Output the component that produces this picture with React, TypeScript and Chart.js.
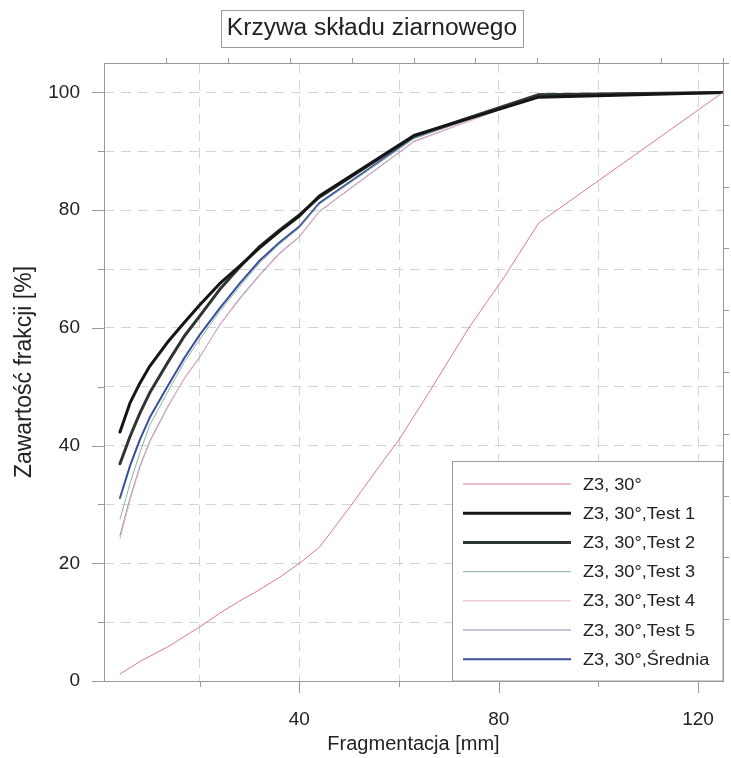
import { useEffect, useRef } from 'react';
import { Chart, registerables } from 'chart.js';
Chart.register(...registerables);

const TITLE = 'Krzywa składu ziarnowego';
const X_TITLE = 'Fragmentacja [mm]';
const Y_TITLE = 'Zawartość frakcji [%]';

const seriesLabels = [
  'Z3, 30°',
  'Z3, 30°,Test 1',
  'Z3, 30°,Test 2',
  'Z3, 30°,Test 3',
  'Z3, 30°,Test 4',
  'Z3, 30°,Test 5',
  'Z3, 30°,Średnia',
];

// base curve
const xBase = [4, 8, 13.6, 20, 24, 28, 31, 36, 40, 44, 50, 57, 60, 66, 74, 81, 88, 125];
const yBase = [1.2, 3.3, 5.8, 9.2, 11.5, 13.6, 15, 17.6, 20, 22.7, 29.4, 37.6, 41, 49, 60, 68.5, 77.8, 100];

// test curves share x values
const xTests = [4, 6, 8, 10, 13.5, 17, 20, 24, 28, 32, 36, 40, 44, 63, 88, 125];
const yTest1 = [42.3, 47.2, 50.6, 53.5, 57.5, 61, 63.9, 67.5, 70.5, 73.6, 76.4, 79, 82.4, 92.7, 99.2, 100];
const yTest2 = [36.9, 41.5, 45.5, 49, 54, 58.7, 62, 66.5, 70.3, 73.8, 76.6, 79.2, 82.2, 92.6, 99.6, 100];
const yTest3 = [27.5, 33.5, 38.8, 43.5, 49, 54.3, 58, 62.8, 67, 71, 74.2, 77, 81, 92.2, 99.6, 100];
const yTest4 = [24.1, 30.6, 36.2, 40.6, 46.3, 51.6, 55.1, 60.4, 64.8, 68.8, 72.5, 75.4, 79.7, 91.6, 99.6, 100];
const yTest5 = [24.7, 31, 36.5, 40.8, 46.5, 51.5, 55, 60.5, 65, 69, 72.7, 75.5, 79.8, 91.7, 99.5, 100];
const yMean = [31.1, 36.5, 41, 44.8, 50, 55, 58.8, 63.3, 67.5, 71.4, 74.5, 77.2, 81.2, 92.3, 99.6, 100];

const xGridValues = [20, 40, 60, 80, 100, 120];
const xLabelValues = [40, 80, 120];
const yGridValues = [10, 20, 30, 40, 50, 60, 70, 80, 90, 100];
const yLabelValues = [0, 20, 40, 60, 80, 100];
const X_MIN = 0.8;
const X_MAX = 125;
const Y_MIN = 0;
const Y_MAX = 105;

const colors = ['#db7b95', '#151515', '#2c362f', '#8fb3a0', '#e4b8c6', '#9684ad', '#3a4e9c'];
const widths = [1, 3, 3, 1, 1, 1, 2];

const FONT = '"Liberation Sans", Arial, sans-serif';
const TEXT = '#222';
const FRAME = '#9a9a9a';

const toPts = (xs: number[], ys: number[]) => xs.map((x, i) => ({ x, y: ys[i] }));

function stretchedText(ctx: any, text: string, x: number, y: number, align: 'left' | 'center', s: number) {
  ctx.save();
  ctx.translate(x, y);
  ctx.scale(s, 1);
  ctx.textAlign = align;
  ctx.fillText(text, 0, 0);
  ctx.restore();
}

const decorPlugin = {
  id: 'decor',
  beforeDraw(chart: any) {
    const { ctx } = chart;
    ctx.save();
    ctx.fillStyle = '#fff';
    ctx.fillRect(0, 0, chart.width, chart.height);
    ctx.restore();
  },
  afterDraw(chart: any) {
    const { ctx, chartArea: a, scales } = chart;
    const xs = scales.x;
    const ys = scales.y;
    ctx.save();
    // frame
    ctx.strokeStyle = FRAME;
    ctx.lineWidth = 1;
    ctx.strokeRect(Math.round(a.left) + 0.5, Math.round(a.top) + 0.5, Math.round(a.right - a.left), Math.round(a.bottom - a.top));
    ctx.beginPath();
    // left ticks
    yGridValues.concat([0]).forEach((v) => {
      const y = Math.round(ys.getPixelForValue(v)) + 0.5;
      const len = yLabelValues.includes(v) ? 12 : 6;
      ctx.moveTo(a.left - len, y);
      ctx.lineTo(a.left, y);
    });
    // bottom ticks
    xGridValues.forEach((v) => {
      const x = Math.round(xs.getPixelForValue(v)) + 0.5;
      const len = xLabelValues.includes(v) ? 12 : 6;
      ctx.moveTo(x, a.bottom);
      ctx.lineTo(x, a.bottom + len);
    });
    // top & right decorative ticks (10 divisions)
    for (let i = 1; i <= 10; i++) {
      const x = Math.round(a.left + ((a.right - a.left) * i) / 10) + 0.5;
      ctx.moveTo(x, a.top);
      ctx.lineTo(x, a.top - 5);
      const y = Math.round(a.bottom - ((a.bottom - a.top) * i) / 10) + 0.5;
      ctx.moveTo(a.right, y);
      ctx.lineTo(a.right + 6, y);
    }
    ctx.stroke();

    // title box
    ctx.font = `23px ${FONT}`;
    const ts = 1.066;
    const tw = ctx.measureText(TITLE).width * ts;
    const cx = 372;
    const bw = tw + 12;
    ctx.fillStyle = '#fff';
    ctx.fillRect(cx - bw / 2, 10, bw, 37);
    ctx.strokeStyle = FRAME;
    ctx.strokeRect(Math.round(cx - bw / 2) + 0.5, 10.5, Math.round(bw), 37);
    ctx.fillStyle = TEXT;
    ctx.textBaseline = 'middle';
    stretchedText(ctx, TITLE, cx, 29, 'center', ts);

    // legend
    const lx = 452.5;
    const ly = 461.5;
    const lw = a.right - lx;
    const lh = a.bottom - ly;
    ctx.fillStyle = '#fff';
    ctx.fillRect(lx, ly, lw, lh);
    ctx.strokeStyle = FRAME;
    ctx.lineWidth = 1;
    ctx.strokeRect(lx, ly, lw, lh);
    ctx.font = `16.5px ${FONT}`;
    ctx.textBaseline = 'middle';
    seriesLabels.forEach((lab, i) => {
      const y = 484 + i * 29.2;
      ctx.strokeStyle = colors[i];
      ctx.lineWidth = widths[i];
      ctx.beginPath();
      ctx.moveTo(463, y);
      ctx.lineTo(571, y);
      ctx.stroke();
      ctx.fillStyle = TEXT;
      stretchedText(ctx, lab, 583, y + 1, 'left', 1.1);
    });
    ctx.restore();
  },
};

export default function App() {
  const ref = useRef<HTMLCanvasElement | null>(null);
  useEffect(() => {
    if (!ref.current) return;
    const datasets = [
      toPts(xBase, yBase),
      toPts(xTests, yTest1),
      toPts(xTests, yTest2),
      toPts(xTests, yTest3),
      toPts(xTests, yTest4),
      toPts(xTests, yTest5),
      toPts(xTests, yMean),
    ].map((data, i) => ({
      label: seriesLabels[i],
      data,
      borderColor: colors[i],
      backgroundColor: colors[i],
      borderWidth: widths[i],
      pointRadius: 0,
      tension: 0,
      fill: false,
      borderJoinStyle: 'round' as const,
      borderCapStyle: 'round' as const,
    }));
    const chart = new Chart(ref.current, {
      type: 'line',
      data: { datasets },
      plugins: [decorPlugin],
      options: {
        animation: false,
        responsive: true,
        maintainAspectRatio: false,
        layout: { padding: { top: 63, right: 8, left: 0, bottom: 0 } },
        plugins: { legend: { display: false }, tooltip: { enabled: false }, title: { display: false } },
        scales: {
          x: {
            type: 'linear',
            min: X_MIN,
            max: X_MAX,
            afterFit: (s: any) => { s.height = 77; s.paddingLeft = 0; s.paddingRight = 0; },
            afterBuildTicks: (s: any) => { s.ticks = xGridValues.map((value) => ({ value })); },
            ticks: {
              autoSkip: false,
              maxRotation: 0,
              padding: 27,
              color: TEXT,
              font: { family: FONT, size: 19 },
              callback: (v: any) => (xLabelValues.includes(Number(v)) ? String(v) : ''),
            },
            grid: { color: '#d4d4d4', lineWidth: 1, drawTicks: false },
            border: { display: false, dash: [10, 7] },
            title: { display: true, text: X_TITLE, color: TEXT, font: { family: FONT, size: 20 }, padding: { top: 0, bottom: 2 } },
          },
          y: {
            type: 'linear',
            min: Y_MIN,
            max: Y_MAX,
            afterFit: (s: any) => { s.width = 104; s.paddingTop = 0; s.paddingBottom = 0; },
            afterBuildTicks: (s: any) => { s.ticks = [0].concat(yGridValues).map((value) => ({ value })); },
            ticks: {
              autoSkip: false,
              padding: 24,
              color: TEXT,
              font: { family: FONT, size: 19 },
              callback: (v: any) => (yLabelValues.includes(Number(v)) ? String(v) : ''),
            },
            grid: { color: '#d4d4d4', lineWidth: 1, drawTicks: false },
            border: { display: false, dash: [10, 7] },
            title: { display: true, text: Y_TITLE, color: TEXT, font: { family: FONT, size: 23 }, padding: { top: 11, bottom: 0 } },
          },
        },
      },
    });
    return () => chart.destroy();
  }, []);
  return (
    <div style={{ position: 'fixed', left: 0, top: 0, width: 731, height: 758, background: '#fff' }}>
      <canvas ref={ref} />
    </div>
  );
}
